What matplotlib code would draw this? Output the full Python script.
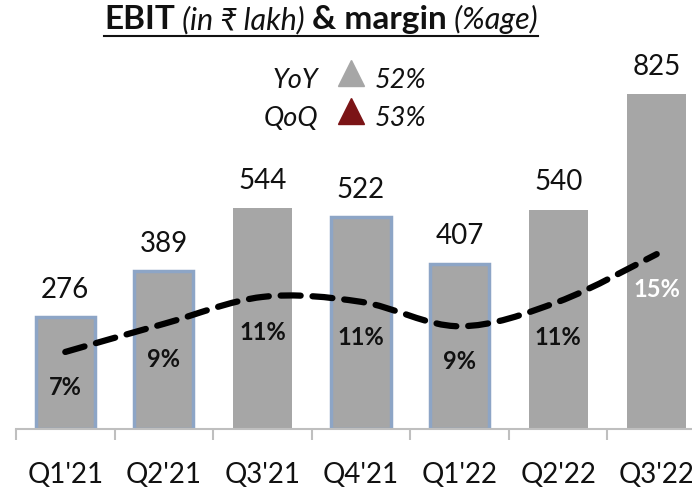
import numpy as np
import matplotlib.pyplot as plt
from matplotlib.path import Path
from matplotlib.patches import PathPatch

plt.rcParams['font.family'] = ['Lato', 'DejaVu Sans']

quarters = ["Q1'21", "Q2'21", "Q3'21", "Q4'21", "Q1'22", "Q2'22", "Q3'22"]
ebit = [276, 389, 544, 522, 407, 540, 825]
margin = [7.0, 9.3, 11.5, 11.1, 9.1, 11.1, 15.0]
margin_labels = ["7%", "9%", "11%", "11%", "9%", "11%", "15%"]
blue_edged = [True, True, False, True, True, False, False]
yoy, qoq = "52%", "53%"

W, H = 692, 489
fig = plt.figure(figsize=(W / 100, H / 100), dpi=100)
# axes spans pixel x 16..706 (past the right edge), y 24..430
ax = fig.add_axes([16 / W, (H - 430) / H, 690 / W, 406 / H])
ax.set_xlim(-0.5, 6.5)
ax.set_ylim(0, 1000)

x = np.arange(len(quarters))
gray = '#A6A6A6'
for xi, v, be in zip(x, ebit, blue_edged):
    if be:
        ax.bar(xi, v, width=0.6, color=gray, edgecolor='#8DA5C6', linewidth=2.5, zorder=2)
    else:
        ax.bar(xi, v, width=0.6, color=gray, linewidth=0, zorder=2)
    ax.annotate(str(v), (xi, v), xytext=(0, 11), textcoords='offset points',
                ha='center', va='bottom', fontsize=20, color='#111111')

for s in ['top', 'right', 'left']:
    ax.spines[s].set_visible(False)
ax.spines['bottom'].set_color('#BFBFBF')
ax.spines['bottom'].set_linewidth(1.5)
ax.set_yticks([])
ax.set_xticks(x)
ax.set_xticklabels(quarters, fontsize=20, color='#111111')
ax.tick_params(axis='x', length=0, pad=23)
ax.set_xticks(np.arange(-0.5, 7, 1), minor=True)
ax.tick_params(axis='x', which='minor', length=8, width=1.5, color='#BFBFBF')

# margin line on a secondary axis, smoothed with bezier segments
ax2 = ax.twinx()
ax2.set_ylim(0.7, 33.9)
ax2.axis('off')
pts = np.column_stack([x, margin]).astype(float)
verts = [tuple(pts[0])]
codes = [Path.MOVETO]
n = len(pts)
for i in range(n - 1):
    p0 = pts[max(i - 1, 0)]
    p1 = pts[i]
    p2 = pts[i + 1]
    p3 = pts[min(i + 2, n - 1)]
    c1 = p1 + (p2 - p0) / 6
    c2 = p2 - (p3 - p1) / 6
    verts += [tuple(c1), tuple(c2), tuple(p2)]
    codes += [Path.CURVE4] * 3
ax2.add_patch(PathPatch(Path(verts, codes), fill=False, edgecolor='black', lw=4.5,
                        linestyle=(0, (3.2, 1.9)), capstyle='round', zorder=3))
for xi, m, lab in zip(x, margin, margin_labels):
    col = 'white' if lab == "15%" else '#111111'
    ax2.annotate(lab, (xi, m), xytext=(0, -25), textcoords='offset points',
                 ha='center', va='center', fontsize=17, fontweight='bold', color=col)

# title built from pieces
pieces = [("EBIT", 'bold', 'normal', 24), (" (in ₹ lakh) ", 'normal', 'italic', 22),
          ("& margin", 'bold', 'normal', 24), (" (%age)", 'normal', 'italic', 22)]
fig.canvas.draw()
r = fig.canvas.get_renderer()
texts = []
for s, w, st, fs in pieces:
    t = fig.text(0, 1 - 29 / H, s, fontweight=w, fontstyle=st, fontsize=fs,
                 color='#111111', va='baseline', ha='left')
    texts.append(t)
widths = [t.get_window_extent(r).width for t in texts]
total = sum(widths)
x0 = 321 - total / 2
for t, wd in zip(texts, widths):
    t.set_x(x0 / W)
    x0 += wd
fig.add_artist(plt.Line2D([(321 - total / 2) / W, (321 + total / 2) / W],
                          [1 - 37 / H, 1 - 37 / H], color='#111111', lw=1.5))

# YoY / QoQ growth box
for lab, val, ypx, col in [("YoY", yoy, 88, '#A6A6A6'), ("QoQ", qoq, 126, '#7B1416')]:
    fig.text(318 / W, 1 - ypx / H, lab, fontsize=19.5, fontstyle='italic',
             ha='right', va='baseline', color='#111111')
    fig.text(375 / W, 1 - ypx / H, val, fontsize=19.5, fontstyle='italic',
             ha='left', va='baseline', color='#111111')
    fig.add_artist(plt.Line2D([351 / W], [1 - (ypx - 14) / H], marker='^', markersize=19,
                              color=col, linestyle='none'))

fig.savefig('out.png', dpi=100)
